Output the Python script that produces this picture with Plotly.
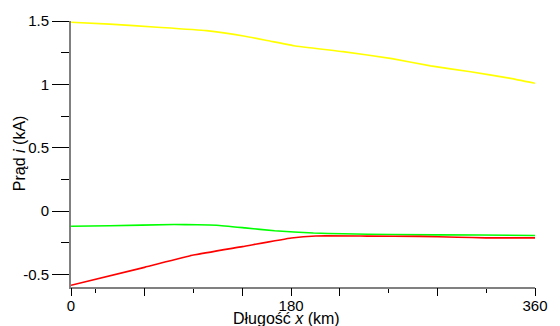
import plotly.graph_objects as go

# Data (x in km, current in kA)
x_yellow = [0, 30, 67, 105, 135, 155, 173, 211, 249, 279, 310, 340, 360]
i_yellow = [1.49, 1.475, 1.451, 1.424, 1.38, 1.34, 1.305, 1.258, 1.203, 1.146, 1.099, 1.049, 1.008]

x_green = [0, 30, 80, 98, 113, 135, 158, 188, 211, 249, 317, 360]
i_green = [-0.12, -0.117, -0.107, -0.108, -0.112, -0.133, -0.156, -0.174, -0.18, -0.186, -0.19, -0.193]

x_red = [0, 57, 95, 133, 171, 190, 230, 270, 300, 322, 360]
i_red = [-0.586, -0.445, -0.348, -0.281, -0.213, -0.197, -0.198, -0.2, -0.207, -0.212, -0.212]

# Axis ticks (as positioned in the reference)
x_label_ticks = [0, 170.8, 360]
x_label_text = ["0", "180", "360"]
x_short_ticks = [18.9, 95, 246.5, 322]
x_long_ticks = [0, 57.3, 133, 170.8, 208, 284, 360]
y_major_ticks = [1.5, 1, 0.5, 0, -0.5]
y_major_text = ["1.5", "1", "0.5", "0", "-0.5"]
y_minor_ticks = [1.25, 0.75, 0.25, -0.25]

fig = go.Figure()
for xs, ys, col in [(x_yellow, i_yellow, "#ffff00"),
                    (x_green, i_green, "#00ff00"),
                    (x_red, i_red, "#ff0000")]:
    fig.add_trace(go.Scatter(x=xs, y=ys, mode="lines",
                             line=dict(color=col, width=1.6, shape="spline", smoothing=0.4),
                             showlegend=False, hoverinfo="skip"))
# empty trace so the overlay axis (long ticks) is drawn
fig.add_trace(go.Scatter(x=[None], y=[None], xaxis="x2", yaxis="y",
                         showlegend=False, hoverinfo="skip"))

font = dict(family="Liberation Sans, Arial, sans-serif", size=15, color="black")
tfont = dict(family="Liberation Sans, Arial, sans-serif", size=16, color="black")

fig.update_layout(
    width=560, height=326,
    margin=dict(l=71, r=13, t=19, b=39),
    paper_bgcolor="white", plot_bgcolor="white",
    font=font,
    showlegend=False,
    xaxis=dict(range=[0, 360], showgrid=False, zeroline=False,
               showline=True, linecolor="#808080", linewidth=2,
               ticks="outside", ticklen=4, tickcolor="black", tickwidth=1,
               tickmode="array", tickvals=x_label_ticks + x_short_ticks,
               ticktext=x_label_text + [""] * len(x_short_ticks),
               tickfont=font),
    xaxis2=dict(range=[0, 360], overlaying="x", anchor="y", side="bottom",
                showgrid=False, zeroline=False, showline=False,
                ticks="outside", ticklen=8, tickcolor="black", tickwidth=1,
                tickmode="array", tickvals=x_long_ticks, showticklabels=False),
    yaxis=dict(range=[-0.6, 1.5], showgrid=False, zeroline=False,
               showline=True, linecolor="#808080", linewidth=2,
               ticks="outside", ticklen=17, tickcolor="black", tickwidth=1,
               tickmode="array", tickvals=y_major_ticks, ticktext=y_major_text,
               tickfont=font,
               minor=dict(tickmode="array", tickvals=y_minor_ticks, ticks="outside",
                          ticklen=8, tickcolor="black", tickwidth=1, showgrid=False)),
    annotations=[
        dict(text="Długość <i>x</i> (km)", xref="paper", yref="paper",
             x=0.4643, y=-0.118, xanchor="center", yanchor="middle",
             showarrow=False, font=tfont),
        dict(text="Prąd <i>i</i> (kA)", xref="paper", yref="paper",
             x=-0.111, y=0.505, xanchor="center", yanchor="middle",
             textangle=-90, showarrow=False, font=tfont),
    ],
)

fig.write_html("out.html", config={"displayModeBar": False},
               post_script="document.body.style.margin='0';document.body.style.padding='0';")
